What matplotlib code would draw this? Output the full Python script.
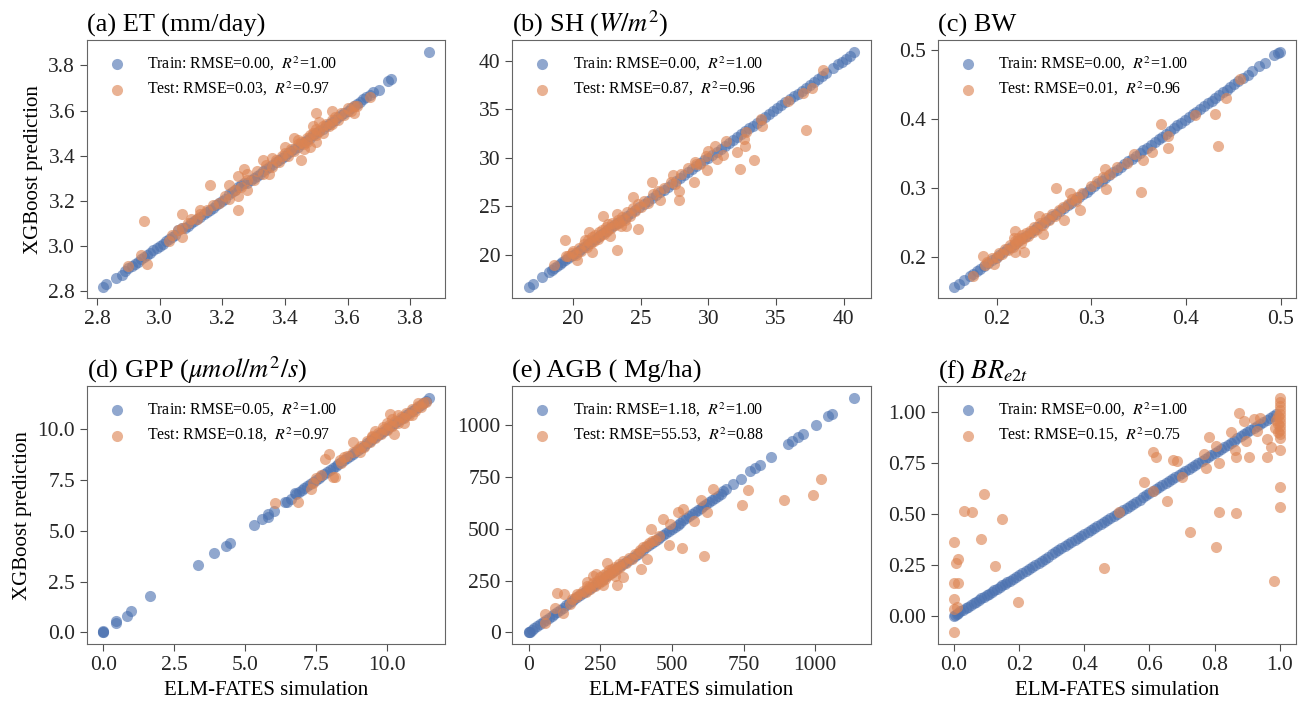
import numpy as np
import matplotlib
matplotlib.use("Agg")
import matplotlib.pyplot as plt

plt.rcParams['font.family'] = ['Liberation Serif', 'DejaVu Serif']
plt.rcParams['mathtext.fontset'] = 'stix'

BLUE = '#4C72B0'
ORANGE = '#DD8452'

# ---- (a) ET ----
et_train_x = [2.82, 2.83, 2.86, 2.88, 2.89, 2.90, 2.91, 2.92, 2.93, 2.94, 2.95, 2.96, 2.97, 2.98, 2.99,
              3.00, 3.01, 3.02, 3.03, 3.04, 3.05, 3.06, 3.07, 3.08, 3.09, 3.10, 3.11, 3.12, 3.13, 3.14,
              3.15, 3.16, 3.17, 3.18, 3.19, 3.20, 3.21, 3.22, 3.23, 3.24, 3.25, 3.26, 3.27, 3.28, 3.29,
              3.30, 3.31, 3.32, 3.33, 3.34, 3.35, 3.36, 3.37, 3.38, 3.39, 3.40, 3.41, 3.42, 3.43, 3.44,
              3.45, 3.46, 3.47, 3.48, 3.49, 3.50, 3.51, 3.52, 3.53, 3.54, 3.55, 3.56, 3.57, 3.58, 3.59,
              3.60, 3.61, 3.62, 3.63, 3.64, 3.65, 3.66, 3.67, 3.68, 3.70, 3.73, 3.74, 3.86]
et_train_y = [2.82, 2.83, 2.86, 2.87, 2.89, 2.90, 2.91, 2.92, 2.93, 2.94, 2.95, 2.96, 2.97, 2.98, 2.99,
              3.00, 3.01, 3.02, 3.03, 3.04, 3.05, 3.07, 3.08, 3.08, 3.09, 3.10, 3.11, 3.12, 3.13, 3.14,
              3.15, 3.16, 3.17, 3.18, 3.19, 3.20, 3.21, 3.23, 3.24, 3.25, 3.26, 3.27, 3.28, 3.28, 3.29,
              3.30, 3.31, 3.32, 3.33, 3.34, 3.35, 3.36, 3.37, 3.38, 3.39, 3.40, 3.41, 3.42, 3.43, 3.44,
              3.45, 3.46, 3.47, 3.48, 3.49, 3.50, 3.51, 3.52, 3.53, 3.54, 3.55, 3.56, 3.57, 3.58, 3.59,
              3.60, 3.61, 3.62, 3.63, 3.64, 3.65, 3.66, 3.67, 3.68, 3.69, 3.73, 3.74, 3.86]
et_test_x = [2.95, 2.96, 2.94, 2.90, 3.03, 3.07, 3.07, 3.07, 3.16, 3.10, 3.13, 3.25, 3.22, 3.25, 3.25,
             3.28, 3.28, 3.27, 3.33, 3.35, 3.36, 3.40, 3.43, 3.45, 3.50, 3.50, 3.55, 3.62, 3.67,
             3.28, 3.30, 3.31, 3.33, 3.34, 3.36, 3.37, 3.38, 3.39, 3.40, 3.41, 3.42, 3.43, 3.44, 3.45,
             3.46, 3.47, 3.47, 3.48, 3.49, 3.50, 3.50, 3.51, 3.52, 3.52, 3.53, 3.54, 3.55, 3.55, 3.56,
             3.57, 3.58, 3.59, 3.60, 3.61, 3.62, 3.63, 3.46, 3.48, 3.44, 3.51, 3.49,
             3.17, 3.19, 3.21, 3.22, 3.24, 3.26, 3.04, 3.06, 3.09, 3.12, 3.15, 3.13]
et_test_y = [3.11, 2.92, 2.96, 2.91, 3.02, 3.14, 3.04, 3.08, 3.27, 3.12, 3.16, 3.16, 3.27, 3.22, 3.31,
             3.32, 3.25, 3.34, 3.38, 3.32, 3.39, 3.44, 3.48, 3.38, 3.46, 3.59, 3.60, 3.59, 3.66,
             3.29, 3.29, 3.33, 3.32, 3.36, 3.35, 3.38, 3.37, 3.40, 3.41, 3.40, 3.43, 3.42, 3.45, 3.46,
             3.45, 3.48, 3.46, 3.49, 3.50, 3.49, 3.52, 3.51, 3.53, 3.50, 3.54, 3.53, 3.56, 3.54, 3.57,
             3.56, 3.59, 3.58, 3.61, 3.60, 3.62, 3.62, 3.43, 3.44, 3.47, 3.55, 3.53,
             3.18, 3.19, 3.22, 3.21, 3.25, 3.26, 3.05, 3.07, 3.10, 3.12, 3.16, 3.14]

# ---- (b) SH ----
sh_train_x = [16.7, 17.0, 17.7, 18.2, 18.4, 18.6, 18.8, 19.0, 19.2, 19.4, 19.6, 19.8, 20.0, 20.2, 20.4,
              20.6, 20.8, 21.0, 21.2, 21.4, 21.6, 21.8, 22.0, 22.2, 22.4, 22.6, 22.8, 23.0, 23.2, 23.4,
              23.6, 23.8, 24.0, 24.3, 24.6, 24.9, 25.2, 25.5, 25.8, 26.1, 26.4, 26.7, 27.0, 27.3, 27.6,
              27.9, 28.2, 28.5, 28.8, 29.1, 29.4, 29.7, 30.0, 30.3, 30.6, 30.9, 31.2, 31.5, 31.8, 32.1,
              32.4, 32.7, 33.0, 33.3, 33.6, 33.9, 34.2, 34.5, 34.8, 35.1, 35.4, 35.7, 36.0, 36.3, 36.6,
              36.9, 37.2, 37.5, 37.8, 38.1, 38.4, 38.7, 39.2, 39.6, 39.9, 40.2, 40.5, 40.8]
sh_train_y = [16.7, 17.0, 17.7, 18.2, 18.4, 18.6, 18.8, 19.0, 19.2, 19.4, 19.6, 19.8, 20.0, 20.2, 20.4,
              20.6, 20.8, 21.0, 21.2, 21.4, 21.6, 21.8, 22.0, 22.2, 22.4, 22.6, 22.8, 23.0, 23.2, 23.4,
              23.6, 23.8, 24.0, 24.3, 24.6, 24.9, 25.2, 25.5, 25.8, 26.1, 26.4, 26.7, 27.0, 27.3, 27.6,
              27.9, 28.2, 28.5, 28.8, 29.1, 29.4, 29.7, 30.0, 30.3, 30.6, 30.9, 31.2, 31.5, 31.8, 32.1,
              32.4, 32.7, 33.0, 33.3, 33.6, 33.9, 34.2, 34.5, 34.8, 35.1, 35.4, 35.7, 36.0, 36.3, 36.6,
              36.9, 37.2, 37.5, 37.8, 38.1, 38.4, 38.7, 39.2, 39.6, 39.9, 40.2, 40.5, 40.9]
sh_test_x = [18.6, 19.4, 19.5, 20.3, 20.0, 21.4, 20.9, 23.2, 22.2, 24.8, 24.4, 23.9, 23.2, 25.8, 26.4,
             27.8, 27.4, 28.9, 27.8, 29.1, 29.9, 30.0, 30.5, 30.6, 31.1, 31.3, 32.1, 32.3, 32.7, 32.6,
             32.8, 33.4, 33.9, 34.0, 35.9, 37.0, 37.2, 37.7, 38.5,
             19.6, 19.9, 20.2, 20.4, 20.6, 20.8, 21.0, 21.1, 21.3, 21.4, 21.5, 21.6, 21.8, 21.9, 22.0,
             22.1, 22.3, 22.4, 22.5, 22.6, 22.8, 22.9, 23.1, 23.3, 23.4, 23.6, 23.8, 24.0, 24.2, 24.4,
             24.6, 24.8, 25.0, 25.2, 25.5, 25.9, 26.3, 26.7, 27.2, 27.5, 28.0, 28.5, 29.0, 29.4, 29.8,
             22.7, 21.2, 23.5]
sh_test_y = [18.9, 21.5, 19.8, 19.4, 20.4, 20.3, 21.5, 20.5, 24.0, 22.6, 25.9, 22.9, 24.2, 27.5, 25.6,
             25.6, 28.2, 27.5, 26.6, 29.3, 28.7, 30.7, 31.2, 29.9, 30.3, 31.7, 30.6, 28.8, 31.2, 31.9,
             32.6, 29.7, 34.0, 33.3, 35.8, 36.7, 32.8, 37.2, 39.0,
             19.8, 20.2, 20.0, 20.7, 20.4, 21.1, 20.8, 21.5, 21.2, 21.8, 21.4, 22.0, 21.6, 22.3, 21.9,
             22.5, 22.1, 22.8, 22.4, 23.1, 22.7, 23.3, 23.0, 23.6, 23.2, 23.9, 23.6, 24.4, 24.0, 24.8,
             24.5, 25.2, 24.9, 25.5, 25.3, 26.2, 26.5, 26.9, 27.5, 27.3, 28.3, 28.9, 29.5, 29.3, 30.2,
             21.9, 22.3, 22.9]

# ---- (c) BW ----
bw_train_x = [0.155, 0.160, 0.166, 0.172, 0.175, 0.179, 0.183, 0.187, 0.191, 0.195, 0.199, 0.203, 0.207,
              0.211, 0.215, 0.219, 0.223, 0.227, 0.231, 0.235, 0.239, 0.243, 0.247, 0.251, 0.255, 0.259,
              0.263, 0.267, 0.271, 0.275, 0.279, 0.283, 0.287, 0.291, 0.295, 0.299, 0.303, 0.307, 0.311,
              0.315, 0.319, 0.323, 0.327, 0.331, 0.335, 0.339, 0.343, 0.347, 0.351, 0.355, 0.359, 0.363,
              0.367, 0.371, 0.375, 0.379, 0.383, 0.387, 0.391, 0.395, 0.399, 0.403, 0.407, 0.411, 0.415,
              0.419, 0.423, 0.427, 0.431, 0.435, 0.439, 0.443, 0.447, 0.451, 0.455, 0.460, 0.465, 0.470,
              0.477, 0.483, 0.493, 0.497, 0.499]
bw_train_y = [0.157, 0.161, 0.166, 0.172, 0.175, 0.179, 0.183, 0.187, 0.191, 0.195, 0.199, 0.203, 0.207,
              0.211, 0.215, 0.219, 0.223, 0.227, 0.231, 0.235, 0.239, 0.243, 0.247, 0.251, 0.255, 0.259,
              0.263, 0.267, 0.271, 0.275, 0.279, 0.283, 0.287, 0.291, 0.295, 0.299, 0.303, 0.307, 0.311,
              0.315, 0.319, 0.323, 0.327, 0.331, 0.335, 0.339, 0.343, 0.347, 0.351, 0.355, 0.359, 0.363,
              0.367, 0.371, 0.375, 0.379, 0.383, 0.387, 0.391, 0.395, 0.399, 0.403, 0.407, 0.411, 0.415,
              0.419, 0.423, 0.427, 0.431, 0.435, 0.439, 0.443, 0.447, 0.451, 0.455, 0.460, 0.465, 0.470,
              0.477, 0.482, 0.493, 0.496, 0.498]
bw_test_x = [0.175, 0.186, 0.188, 0.197, 0.219, 0.229, 0.219, 0.249, 0.245, 0.263, 0.271, 0.277, 0.288,
             0.284, 0.316, 0.315, 0.327, 0.338, 0.345, 0.353, 0.355, 0.364, 0.374, 0.381, 0.381, 0.409,
             0.431, 0.434, 0.442, 0.457,
             0.190, 0.195, 0.200, 0.203, 0.206, 0.209, 0.212, 0.214, 0.217, 0.219, 0.221, 0.223, 0.225,
             0.227, 0.229, 0.231, 0.233, 0.235, 0.238, 0.240, 0.243, 0.246, 0.249, 0.252, 0.255, 0.258,
             0.262, 0.266, 0.270, 0.275, 0.280, 0.285, 0.290, 0.300, 0.306, 0.312, 0.320, 0.218, 0.226]
bw_test_y = [0.172, 0.202, 0.188, 0.190, 0.207, 0.207, 0.237, 0.234, 0.260, 0.300, 0.254, 0.293, 0.268,
             0.282, 0.299, 0.328, 0.330, 0.336, 0.349, 0.295, 0.341, 0.352, 0.393, 0.359, 0.376, 0.406,
             0.408, 0.361, 0.431, 0.458,
             0.192, 0.198, 0.200, 0.206, 0.204, 0.212, 0.210, 0.218, 0.215, 0.223, 0.220, 0.228, 0.224,
             0.232, 0.227, 0.235, 0.231, 0.238, 0.236, 0.244, 0.241, 0.250, 0.247, 0.256, 0.253, 0.262,
             0.260, 0.268, 0.272, 0.277, 0.284, 0.287, 0.293, 0.303, 0.310, 0.316, 0.321, 0.228, 0.220]

# ---- (d) GPP ----
gpp_train_x = [0.0, 0.0, 0.0, 0.44, 0.46, 0.85, 0.97, 1.66, 3.33, 3.92, 4.33, 4.47, 5.32, 5.59, 5.80,
               5.83, 6.03, 6.42, 6.47, 6.62, 6.77, 6.8, 6.9, 7.0, 7.1, 7.2, 7.3, 7.4, 7.5, 7.6, 7.7,
               7.8, 7.9, 8.0, 8.1, 8.2, 8.3, 8.4, 8.5, 8.6, 8.7, 8.8, 8.9, 9.0, 9.1, 9.2, 9.3, 9.4,
               9.5, 9.6, 9.7, 9.8, 9.9, 10.0, 10.1, 10.2, 10.3, 10.4, 10.5, 10.6, 10.7, 10.8, 10.9,
               11.0, 11.1, 11.2, 11.3, 11.4, 11.5]
gpp_train_y = [0.0, 0.03, 0.05, 0.46, 0.54, 0.82, 1.03, 1.77, 3.32, 3.90, 4.27, 4.42, 5.29, 5.58, 5.66,
               5.83, 5.99, 6.40, 6.42, 6.56, 6.84, 6.8, 6.9, 7.0, 7.1, 7.2, 7.3, 7.4, 7.5, 7.6, 7.7,
               7.8, 7.9, 8.0, 8.1, 8.2, 8.3, 8.4, 8.5, 8.6, 8.7, 8.8, 8.9, 9.0, 9.1, 9.2, 9.3, 9.4,
               9.5, 9.6, 9.7, 9.8, 9.9, 10.0, 10.1, 10.2, 10.3, 10.4, 10.5, 10.6, 10.7, 10.8, 10.9,
               11.0, 11.1, 11.2, 11.3, 11.4, 11.55]
gpp_test_x = [6.07, 6.86, 7.32, 7.42, 7.50, 7.83, 7.95, 8.12, 8.18, 8.36, 8.48, 8.83, 9.07, 9.48, 9.89,
              10.13, 10.25,
              9.0, 9.1, 9.2, 9.3, 9.4, 9.5, 9.6, 9.7, 9.8, 9.9, 10.0, 10.1, 10.2, 10.3, 10.4, 10.5,
              10.6, 10.7, 10.8, 10.9, 11.0, 11.1, 11.2, 11.3, 11.4, 10.4, 10.6, 10.9, 11.1, 10.2, 10.0,
              9.6, 8.6, 8.4, 8.8, 7.7]
gpp_test_y = [6.38, 6.40, 7.05, 7.33, 7.58, 8.56, 8.80, 7.66, 7.63, 8.48, 8.64, 9.38, 8.89, 9.66, 10.11,
              10.77, 9.79,
              9.05, 9.2, 9.15, 9.4, 9.35, 9.6, 9.55, 9.8, 9.75, 10.0, 9.95, 10.2, 10.15, 10.4, 10.3, 10.6,
              10.55, 10.8, 10.7, 11.0, 10.9, 11.15, 11.1, 11.3, 11.35, 10.7, 10.3, 10.7, 11.3, 10.5, 10.3,
              9.9, 8.7, 8.35, 8.9, 7.75]

# ---- (e) AGB ----
agb_train_x = [0, 2, 5, 10, 20, 30, 40, 50, 60, 70, 80, 90, 100, 110, 120, 130, 140, 150, 160, 170, 180,
               190, 200, 210, 220, 230, 240, 250, 260, 270, 280, 290, 300, 310, 320, 330, 340, 350, 360,
               370, 380, 390, 400, 410, 420, 430, 440, 450, 460, 470, 480, 490, 500, 510, 520, 530, 540,
               550, 560, 570, 580, 590, 600, 610, 620, 630, 640, 650, 660, 670, 680, 690, 713, 742, 771,
               789, 809, 847, 905, 920, 940, 957, 1003, 1044, 1059, 1137]
agb_train_y = [0, 3, 4, 10, 20, 30, 40, 50, 60, 70, 80, 90, 100, 110, 120, 130, 140, 150, 160, 170, 180,
               190, 200, 210, 220, 230, 240, 250, 260, 270, 280, 290, 300, 310, 320, 330, 340, 350, 360,
               370, 380, 390, 400, 410, 420, 430, 440, 450, 460, 470, 480, 490, 500, 510, 520, 530, 540,
               550, 560, 570, 580, 590, 600, 610, 620, 630, 640, 650, 660, 670, 680, 690, 717, 738, 778,
               794, 810, 847, 907, 925, 944, 955, 1000, 1043, 1056, 1132]
agb_test_x = [58, 58, 93, 99, 122, 119, 145, 168, 203, 224, 273, 307, 331, 391, 412, 426, 470, 491, 493,
              522, 537, 539, 577, 600, 623, 611, 644, 745, 766, 890, 994, 1021,
              150, 165, 180, 190, 200, 210, 215, 225, 230, 240, 245, 250, 255, 260, 265, 270, 275, 280,
              285, 290, 295, 300, 310, 315, 320, 330, 340, 350, 360, 370, 380, 390, 400, 410, 420, 430,
              440, 455, 235, 260, 300, 205]
agb_test_y = [47, 87, 119, 191, 183, 95, 135, 183, 223, 272, 336, 231, 268, 304, 352, 500, 545, 424, 521,
              580, 405, 593, 537, 638, 580, 368, 690, 614, 686, 641, 662, 741,
              160, 170, 185, 200, 195, 220, 210, 240, 225, 250, 240, 265, 250, 275, 260, 285, 270, 300,
              280, 305, 290, 315, 305, 330, 315, 345, 335, 360, 355, 380, 385, 400, 410, 415, 430, 440,
              445, 465, 280, 230, 270, 245]

# ---- (f) BR_e2t ----
br_train_x = [0.000, 0.004, 0.008, 0.012, 0.020, 0.028, 0.036, 0.044, 0.052, 0.060, 0.068, 0.076, 0.084,
              0.092, 0.100, 0.108, 0.116, 0.124, 0.132, 0.140, 0.148, 0.156, 0.164, 0.172, 0.180, 0.190,
              0.200, 0.210, 0.220, 0.230, 0.240, 0.250, 0.260, 0.270, 0.280, 0.290, 0.300, 0.310, 0.320,
              0.330, 0.340, 0.350, 0.360, 0.370, 0.380, 0.390, 0.400, 0.410, 0.420, 0.430, 0.440, 0.450,
              0.460, 0.470, 0.480, 0.490, 0.500, 0.510, 0.520, 0.530, 0.540, 0.550, 0.560, 0.570, 0.580,
              0.590, 0.600, 0.610, 0.620, 0.630, 0.640, 0.650, 0.660, 0.670, 0.680, 0.690, 0.700, 0.710,
              0.720, 0.730, 0.740, 0.750, 0.760, 0.770, 0.780, 0.790, 0.800, 0.810, 0.820, 0.830, 0.840,
              0.850, 0.860, 0.870, 0.880, 0.890, 0.900, 0.910, 0.920, 0.930, 0.940, 0.950, 0.960, 0.970,
              0.980, 0.990]
br_train_y = [0.000, 0.004, 0.008, 0.012, 0.020, 0.028, 0.036, 0.044, 0.052, 0.060, 0.068, 0.076, 0.084,
              0.092, 0.100, 0.108, 0.116, 0.124, 0.132, 0.140, 0.148, 0.156, 0.164, 0.172, 0.180, 0.190,
              0.200, 0.210, 0.220, 0.230, 0.240, 0.250, 0.260, 0.270, 0.280, 0.290, 0.300, 0.310, 0.320,
              0.330, 0.340, 0.350, 0.360, 0.370, 0.380, 0.390, 0.400, 0.410, 0.420, 0.430, 0.440, 0.450,
              0.460, 0.470, 0.480, 0.490, 0.500, 0.510, 0.520, 0.530, 0.540, 0.550, 0.560, 0.570, 0.580,
              0.590, 0.600, 0.610, 0.620, 0.630, 0.640, 0.650, 0.660, 0.670, 0.680, 0.690, 0.700, 0.710,
              0.720, 0.730, 0.740, 0.750, 0.760, 0.770, 0.780, 0.790, 0.800, 0.810, 0.820, 0.830, 0.840,
              0.850, 0.860, 0.870, 0.880, 0.890, 0.900, 0.910, 0.920, 0.930, 0.940, 0.950, 0.960, 0.970,
              0.980, 0.990]
br_test_x = [0.0, 0.0, 0.0, 0.0, 0.0, 0.007, 0.011, 0.011, 0.009, 0.032, 0.056, 0.083, 0.092, 0.127,
             0.148, 0.197, 0.46, 0.508, 0.583, 0.612, 0.612, 0.62, 0.653, 0.671, 0.686, 0.701, 0.725,
             0.766, 0.773, 0.784, 0.803, 0.803, 0.813, 0.815, 0.849, 0.863, 0.865, 0.866, 0.874, 0.889,
             0.896, 0.907, 0.922, 0.931, 0.94, 0.96, 0.962, 0.972, 0.983, 1.0, 1.0, 1.0,
             1.0, 1.0, 1.0, 1.0, 1.0, 1.0, 1.0, 1.0, 1.0, 1.0, 1.0, 0.995, 0.995, 0.995, 0.99, 0.985]
br_test_y = [0.362, 0.158, 0.080, 0.031, -0.083, 0.256, 0.280, 0.161, 0.041, 0.513, 0.507, 0.375, 0.598,
             0.241, 0.473, 0.065, 0.235, 0.508, 0.655, 0.802, 0.610, 0.780, 0.562, 0.764, 0.758, 0.680,
             0.410, 0.794, 0.724, 0.875, 0.337, 0.834, 0.508, 0.750, 0.900, 0.815, 0.504, 0.777, 0.993,
             0.957, 0.859, 0.780, 0.965, 0.908, 0.970, 0.780, 0.867, 0.826, 0.171, 0.631, 0.533, 0.815,
             1.07, 1.05, 1.03, 1.01, 0.99, 0.97, 0.95, 0.93, 0.91, 0.89, 0.87, 0.98, 0.94, 0.90, 0.96, 0.92]

# tick positions per panel (x ticks, y ticks)
ticks = [
    ([2.8, 3.0, 3.2, 3.4, 3.6, 3.8], [2.8, 3.0, 3.2, 3.4, 3.6, 3.8]),
    ([20, 25, 30, 35, 40], [20, 25, 30, 35, 40]),
    ([0.2, 0.3, 0.4, 0.5], [0.2, 0.3, 0.4, 0.5]),
    ([0.0, 2.5, 5.0, 7.5, 10.0], [0.0, 2.5, 5.0, 7.5, 10.0]),
    ([0, 250, 500, 750, 1000], [0, 250, 500, 750, 1000]),
    ([0.0, 0.2, 0.4, 0.6, 0.8, 1.0], [0.0, 0.25, 0.5, 0.75, 1.0]),
]
tick_fmt = [('%.1f', '%.1f'), ('%d', '%d'), ('%.1f', '%.1f'),
            ('%.1f', '%.1f'), ('%d', '%d'), ('%.1f', '%.2f')]

panels = [
    ('(a) ET (mm/day)', et_train_x, et_train_y, et_test_x, et_test_y,
     ('0.00', '1.00'), ('0.03', '0.97')),
    ('(b) SH ($W/m^2$)', sh_train_x, sh_train_y, sh_test_x, sh_test_y,
     ('0.00', '1.00'), ('0.87', '0.96')),
    ('(c) BW', bw_train_x, bw_train_y, bw_test_x, bw_test_y,
     ('0.00', '1.00'), ('0.01', '0.96')),
    ('(d) GPP ($\\mu mol/m^2/s$)', gpp_train_x, gpp_train_y, gpp_test_x, gpp_test_y,
     ('0.05', '1.00'), ('0.18', '0.97')),
    ('(e) AGB ( Mg/ha)', agb_train_x, agb_train_y, agb_test_x, agb_test_y,
     ('1.18', '1.00'), ('55.53', '0.88')),
    ('(f) $BR_{e2t}$', br_train_x, br_train_y, br_test_x, br_test_y,
     ('0.00', '1.00'), ('0.15', '0.75')),
]

fig, axes = plt.subplots(2, 3, figsize=(12.99, 7.04), dpi=100)
fig.subplots_adjust(left=0.067, right=0.9977, top=0.943, bottom=0.085, wspace=0.187, hspace=0.34)

for i, (title, trx, tr_y, tex, te_y, tr_stats, te_stats) in enumerate(panels):
    ax = axes.flat[i]
    ax.scatter(trx, tr_y, s=64, color=BLUE, alpha=0.62, linewidths=0,
               label=f'Train: RMSE={tr_stats[0]},  $R^2$={tr_stats[1]}')
    ax.scatter(tex, te_y, s=64, color=ORANGE, alpha=0.62, linewidths=0,
               label=f'Test: RMSE={te_stats[0]},  $R^2$={te_stats[1]}')
    ax.set_xticks(ticks[i][0])
    ax.set_yticks(ticks[i][1])
    ax.xaxis.set_major_formatter(plt.FormatStrFormatter(tick_fmt[i][0]))
    ax.yaxis.set_major_formatter(plt.FormatStrFormatter(tick_fmt[i][1]))
    ax.set_title(title, loc='left', fontsize=19, pad=6)
    ax.tick_params(labelsize=15.5, length=5, color='0.3', labelcolor='0.15')
    for sp in ax.spines.values():
        sp.set_color('0.4')
    ax.legend(loc='upper left', frameon=False, fontsize=11.4, scatterpoints=1,
              handletextpad=0.9, labelspacing=0.45)
    if i % 3 == 0:
        ax.set_ylabel('XGBoost prediction', fontsize=15)
    if i >= 3:
        ax.set_xlabel('ELM-FATES simulation', fontsize=15)

fig.savefig('out.png', dpi=100)
